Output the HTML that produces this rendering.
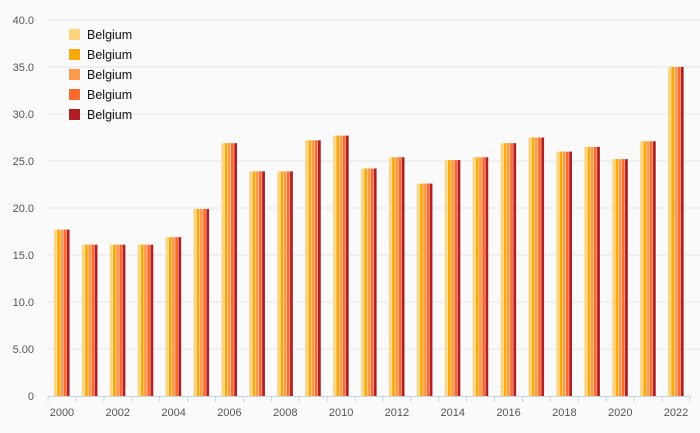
<!DOCTYPE html>
<html><head><meta charset="utf-8"><style>
body{margin:0;background:#fafafa;font-family:"Liberation Sans",sans-serif;}
svg{display:block}
</style></head><body>
<svg id="c" width="700" height="433">
<rect width="700" height="433" fill="#fafafa"/>
<g id="grid"></g><g id="bars"></g><g id="axis"></g><g id="legend"></g>
</svg>
<script>
const categories=["2000","2001","2002","2003","2004","2005","2006","2007","2008","2009","2010","2011","2012","2013","2014","2015","2016","2017","2018","2019","2020","2021","2022"];
const values=[17.7,16.1,16.1,16.1,16.9,19.9,26.9,23.9,23.9,27.2,27.7,24.2,25.4,22.6,25.1,25.4,26.9,27.5,26.0,26.5,25.2,27.1,35.0];
const seriesNames=["Belgium","Belgium","Belgium","Belgium","Belgium"];
const seriesColors=["#fed47e","#f9aa0a","#fd9b4d","#fd6b2c","#b01f24"];
const yTicks=[0,5,10,15,20,25,30,35,40];
const yTickLabels=["0","5.00","10.0","15.0","20.0","25.0","30.0","35.0","40.0"];
const NS="http://www.w3.org/2000/svg";
const x0=48,x1=690,y0=396,y1=20,ymax=40;
const bw=(x1-x0)/categories.length;
const yS=v=>y0-(v/ymax)*(y0-y1);
const xS=i=>x0+i*bw;
function mk(t,a,p){const e=document.createElementNS(NS,t);for(const k in a)e.setAttribute(k,a[k]);p.appendChild(e);return e;}
const grid=document.getElementById('grid'),bars=document.getElementById('bars'),axis=document.getElementById('axis'),legend=document.getElementById('legend');
yTicks.forEach((t,i)=>{
 if(t>0){const l=mk('line',{x1:x0,x2:x1+10,y1:yS(t),y2:yS(t),stroke:'#e4e4e4','stroke-width':1},grid);
 
 }
 const tx=mk('text',{x:34,y:yS(t)+4,'text-anchor':'end','font-size':11,fill:'#555'},axis);
 tx.textContent=yTickLabels[i];
 
 
});
const gw=16,sw=gw/seriesNames.length;
categories.forEach((c,i)=>{
 const cx=xS(i)+bw/2;
 seriesNames.forEach((s,j)=>{
  const r=mk('rect',{x:cx-gw/2+j*sw,y:yS(values[i]),width:sw-0.4,height:y0-yS(values[i]),fill:seriesColors[j]},bars);
  
  
 });
 const tk=mk('line',{x1:xS(i),x2:xS(i),y1:y0,y2:y0+6,stroke:'#c5d3e6'},axis);
 
 
 if(i%2==0){const t=mk('text',{x:cx,y:416,'text-anchor':'middle','font-size':11,fill:'#555'},axis);
 t.textContent=c;
 
 }
});
const xl=mk('line',{x1:x0,x2:x1,y1:y0+0.5,y2:y0+0.5,stroke:'#c5d3e6'},axis);


const tkEnd=mk('line',{x1:x1,x2:x1,y1:y0,y2:y0+6,stroke:'#c5d3e6'},axis);


seriesNames.forEach((s,j)=>{
 const g=mk('g',{},legend);
 
 
 mk('rect',{x:69,y:29+j*20,width:11,height:11,fill:seriesColors[j]},g);
 const t=mk('text',{x:87,y:39+j*20,'font-size':12.5,fill:'#111'},g);
 t.textContent=s;
});
</script>
</body></html>
